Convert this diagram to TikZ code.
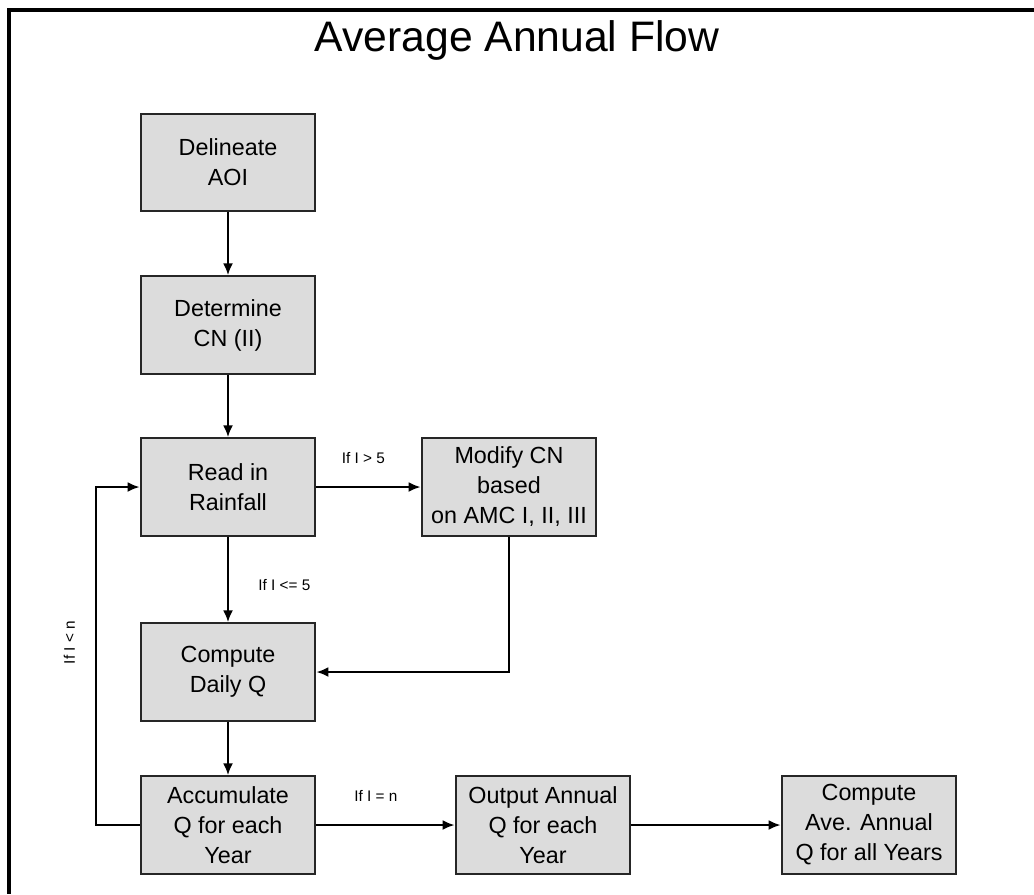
\documentclass[tikz,border=0pt]{standalone}
\usepackage{fontspec}
\setmainfont{Liberation Sans}
\usetikzlibrary{positioning, arrows.meta}
\tikzset{>={Latex[length=9pt, width=7.5pt]}}
\definecolor{boxgray}{HTML}{DCDCDC}
\definecolor{edgegray}{HTML}{262626}

\begin{document}
\begin{tikzpicture}[x=0.75pt, y=-0.75pt,
    stepbox/.style={rectangle, draw=edgegray, line width=1.6pt, fill=boxgray, minimum width=131pt, minimum height=73pt, inner sep=0pt, align=center, font=\fontsize{17.5}{22.5}\selectfont},
    flow/.style={draw=black, line width=1.6pt, ->},
    cond/.style={font=\fontsize{11.5}{13}\selectfont, inner sep=0pt}]
      \useasboundingbox (0,0) rectangle (1034,894);
      \draw[line width=2.5pt] (1034,10) -- (9,10) -- (9,894);
      \node[font=\fontsize{32}{36}\selectfont] (title) at (517,40) {Average Annual Flow};
      \node[stepbox] (aoi) at (228,162.5) {Delineate\\AOI};
      \node[stepbox] (cn) at (228,325) {Determine\\CN (II)};
      \node[stepbox] (rain) at (228,487) {Read in\\Rainfall};
      \node[stepbox] (modify) at (509,487) {Modify CN\\based\\on AMC I, II, III};
      \node[stepbox] (daily) at (228,672) {Compute\\Daily Q};
      \node[stepbox] (accum) at (228,825) {Accumulate\\Q for each\\Year};
      \node[stepbox] (output) at (543,825) {Output Annual\\Q for each\\Year};
      \node[stepbox] (average) at (869,825) {Compute\\Ave. Annual\\Q for all Years};
      \coordinate (loop) at (96,825);
      \draw[flow] (aoi) -- (cn);
      \draw[flow] (cn) -- (rain);
      \draw[flow] (rain) -- node[cond, pos=0.45, above=17pt] {If I > 5} (modify);
      \draw[flow] (rain) -- node[cond, pos=0.57, right=22pt] {If I <= 5} (daily);
      \draw[flow] (modify.south) |- (daily.east);
      \draw[flow] (daily) -- (accum);
      \draw[flow] (accum.west) -- (loop) |- node[cond, pos=0.27, sloped, above=15pt] {If I < n} (rain.west);
      \draw[flow] (accum) -- node[cond, pos=0.43, above=17pt] {If I = n} (output);
      \draw[flow] (output) -- (average);
    \end{tikzpicture}
\end{document}
